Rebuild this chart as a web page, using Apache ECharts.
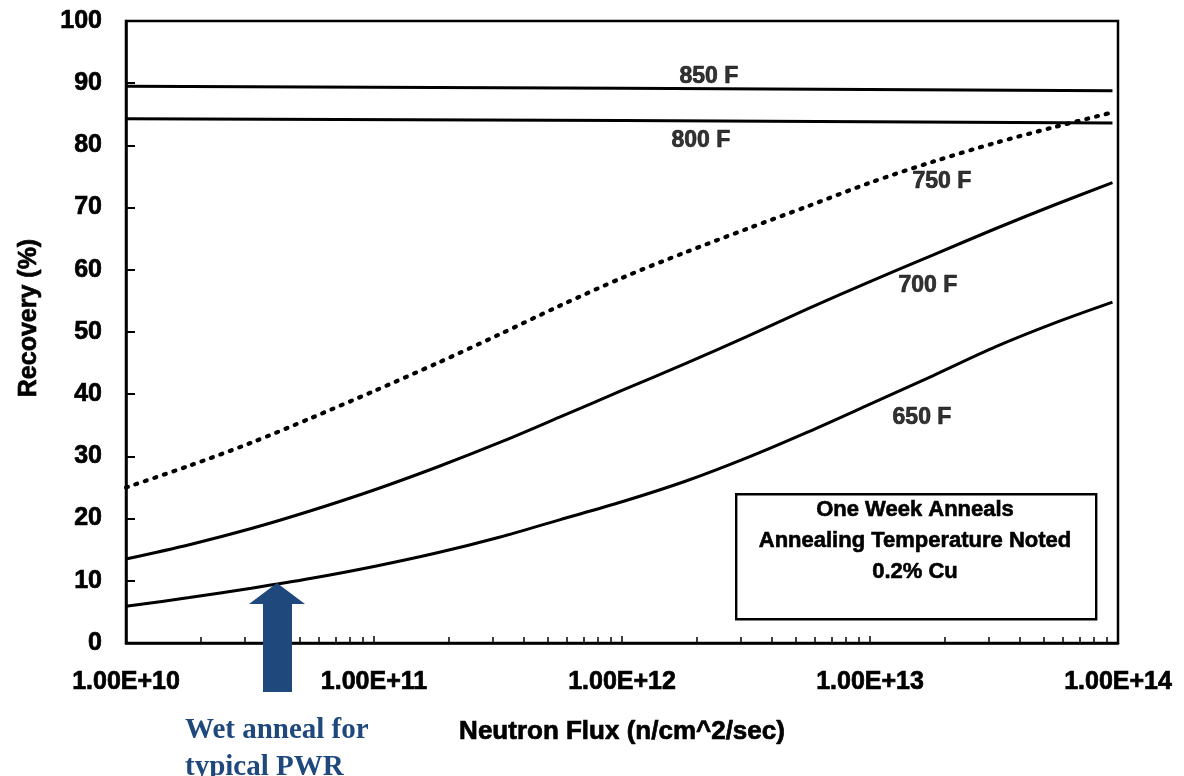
<!DOCTYPE html>
<html>
<head>
<meta charset="utf-8">
<script src="https://cdn.jsdelivr.net/npm/echarts@6/dist/echarts.min.js"></script>
<style>
  html, body { margin: 0; padding: 0; background: #fff; }
  #chart { width: 1184px; height: 776px; }
</style>
</head>
<body>
<div id="chart"></div>
<script>
// Neutron flux sample points (n/cm^2/sec), shared by the curved series
const flux = [1e10, 1.8e10, 3.2e10, 5.6e10, 1e11, 1.8e11, 3.2e11, 5.6e11,
              1e12, 1.8e12, 3.2e12, 5.6e12, 1e13, 1.8e13, 3.2e13, 5.6e13, 9.5e13];

// Recovery (%) for each annealing temperature
const rec750 = [25.0, 28.5, 32.2, 36.2, 40.5, 45.0, 49.6, 54.2,
                58.7, 62.8, 66.6, 70.2, 74.0, 77.4, 80.4, 83.0, 85.3];
const rec700 = [13.5, 15.8, 18.4, 21.3, 24.6, 28.3, 32.2, 36.3,
                40.6, 44.9, 49.3, 53.7, 58.1, 62.4, 66.6, 70.5, 74.0];
const rec650 = [5.9, 7.3, 8.8, 10.4, 12.3, 14.5, 17.0, 19.8,
                22.7, 26.0, 29.8, 33.9, 38.4, 43.0, 47.6, 51.5, 54.8];

// The two highest temperatures are nearly flat
const fluxFlat = [1e10, 1e12, 9.5e13];
const rec850 = [89.5, 89.2, 88.8];
const rec800 = [84.3, 84.0, 83.6];

// Curve labels: [flux, recovery, text]
const curveLabels = [
  [2.24e12, 91.1, '850 F'],
  [2.08e12, 80.7, '800 F'],
  [1.95e13, 74.1, '750 F'],
  [1.71e13, 57.5, '700 F'],
  [1.62e13, 36.2, '650 F']
];

const yTicks = [0, 10, 20, 30, 40, 50, 60, 70, 80, 90, 100];

const noteLines = ['One Week Anneals', 'Annealing Temperature Noted', '0.2% Cu'];
const calloutLines = ['Wet anneal for', 'typical PWR'];

const FONT = '"Liberation Sans", Arial, sans-serif';
const BLUE = '#1F497D';

// heavy black text used throughout the plot
const heavy = { fontFamily: FONT, fontWeight: 'bold', color: '#000', textBorderColor: '#000', textBorderWidth: 0.7 };

function pairs(xs, ys) { return xs.map((x, i) => [x, ys[i]]); }

const solid = { color: '#000', width: 3 };

const chart = echarts.init(document.getElementById('chart'), null, { renderer: 'canvas' });

chart.setOption({
  backgroundColor: '#fff',
  animation: false,
  grid: {
    left: 126, right: 66, top: 21, bottom: 133,
    show: true, borderColor: '#000', borderWidth: 2.5,
    outerBoundsMode: 'none'
  },
  xAxis: {
    type: 'log', logBase: 10, min: 1e10, max: 1e14,
    name: 'Neutron Flux (n/cm^2/sec)',
    nameLocation: 'middle', nameGap: 76,
    nameTextStyle: Object.assign({ fontSize: 26 }, heavy),
    axisLine: { lineStyle: { color: '#000', width: 2.5 } },
    axisTick: { inside: true, length: 7, lineStyle: { color: '#000', width: 1.5 } },
    minorTick: { show: true, splitNumber: 9, length: 6, lineStyle: { color: '#000', width: 1.5 } },
    axisLabel: Object.assign({
      margin: 27, fontSize: 25,
      formatter: v => '1.00E+' + Math.round(Math.log10(v))
    }, heavy),
    splitLine: { show: false }, minorSplitLine: { show: false }
  },
  yAxis: {
    type: 'value', min: yTicks[0], max: yTicks[yTicks.length - 1], interval: 10,
    name: 'Recovery (%)',
    nameLocation: 'middle', nameGap: 84,
    nameTextStyle: Object.assign({ fontSize: 25, padding: [0, 0, 0, 28] }, heavy),
    axisLine: { lineStyle: { color: '#000', width: 2.5 } },
    axisTick: { inside: true, length: 9, lineStyle: { color: '#000', width: 2 } },
    axisLabel: Object.assign({ margin: 24, fontSize: 25 }, heavy),
    splitLine: { show: false }
  },
  series: [
    { name: '850 F', type: 'line', data: pairs(fluxFlat, rec850), showSymbol: false, lineStyle: solid },
    { name: '800 F', type: 'line', data: pairs(fluxFlat, rec800), showSymbol: false, lineStyle: solid },
    { name: '750 F', type: 'line', data: pairs(flux, rec750), showSymbol: false, smooth: 0.3,
      lineStyle: { color: '#000', width: 4.2, type: [2, 8], cap: 'round' } },
    { name: '700 F', type: 'line', data: pairs(flux, rec700), showSymbol: false, smooth: 0.3, lineStyle: solid },
    { name: '650 F', type: 'line', data: pairs(flux, rec650), showSymbol: false, smooth: 0.3, lineStyle: solid },
    {
      name: 'labels', type: 'scatter', symbolSize: 0, silent: true,
      data: curveLabels.map(d => ({ value: [d[0], d[1]], name: d[2] })),
      label: Object.assign({
        show: true, position: 'inside', formatter: '{b}', fontSize: 23
      }, heavy)
    }
  ],
  graphic: [
    {
      type: 'rect', left: 735, top: 493, z: 10,
      shape: { width: 360, height: 125 },
      style: { fill: '#fff', stroke: '#000', lineWidth: 2.4 }
    },
    {
      type: 'text', x: 915, y: 494, z: 11,
      style: {
        text: noteLines.join('\n'), align: 'center', verticalAlign: 'top',
        lineHeight: 31, font: 'bold 22px ' + FONT, fill: '#000',
        stroke: '#000', lineWidth: 0.6
      }
    },
    {
      type: 'polygon', z: 12,
      shape: { points: [[263, 692], [263, 604], [249, 604], [277, 583], [305, 604], [292, 604], [292, 692]] },
      style: { fill: BLUE }
    },
    {
      type: 'text', x: 185, y: 712, z: 12,
      style: {
        text: calloutLines.join('\n'), align: 'left', verticalAlign: 'top',
        lineHeight: 37, font: 'bold 29px "Liberation Serif", "Times New Roman", serif', fill: BLUE
      }
    }
  ]
});
</script>
</body>
</html>
